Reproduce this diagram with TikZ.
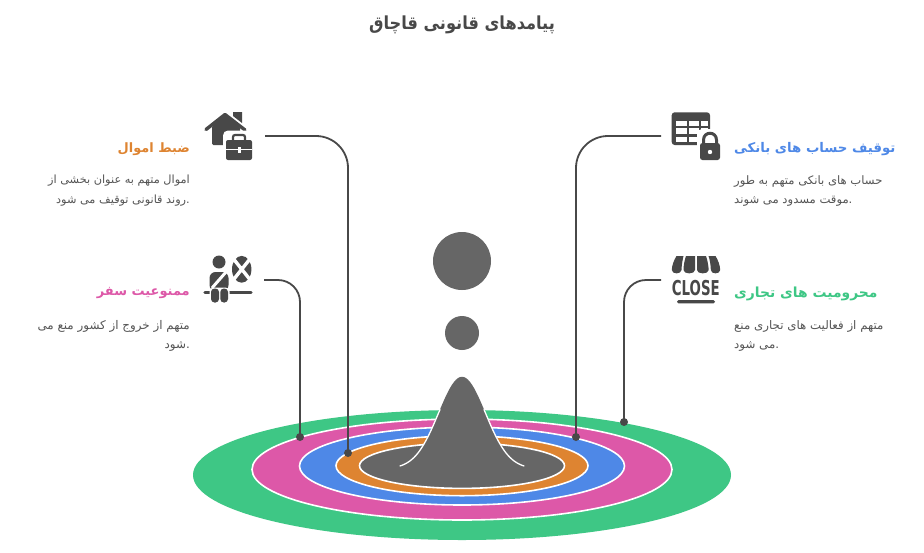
\documentclass[tikz,border=0pt]{standalone}
\usepackage{fontspec}
\setmainfont{DejaVu Sans}
\newfontfamily\arabicfont[Script=Arabic]{DejaVu Sans}
\TeXXeTstate=1
\newcommand{\artxt}[1]{{\arabicfont\beginR #1\endR}}
\newcommand{\fsz}[1]{\fontsize{#1}{19.5}\selectfont}
\definecolor{cgreen}{HTML}{3EC785}
\definecolor{cpink}{HTML}{DD58A8}
\definecolor{cblue}{HTML}{4E88E7}
\definecolor{corange}{HTML}{DE8431}
\definecolor{cgray}{HTML}{666666}
\definecolor{cdark}{HTML}{484848}
\definecolor{ctext}{HTML}{555555}
\tikzset{
  x=1pt,y=-1pt,
  ring/.style={draw=white,line width=1.6pt},
  conn/.style={draw=cdark,line width=1.8pt},
  enddot/.style={circle,fill=cdark,inner sep=0pt,minimum size=8pt},
  headl/.style={anchor=east,inner sep=0pt,font=\bfseries\fsz{#1}},
  headr/.style={anchor=west,inner sep=0pt,font=\bfseries\fsz{#1}},
  descl/.style={anchor=north east,inner sep=0pt,align=right,text=ctext,font=\fsz{#1}},
  descr/.style={anchor=north west,inner sep=0pt,align=left,text=ctext,font=\fsz{#1}},
  ic/.style={fill=cdark},
}
\begin{document}
\begin{tikzpicture}
\useasboundingbox (0,0) rectangle (924,552);
\fill[white] (0,0) rectangle (924,552);
\node[inner sep=0pt,text=cdark,xscale=0.9,font=\bfseries\fontsize{18}{21}\selectfont] (title) at (462,25) {\artxt{پیامدهای قانونی قاچاق}};
% rings
\fill[cgreen] (462,475) ellipse [x radius=269,y radius=65];
\path[ring,fill=cpink] (462,469.5) ellipse [x radius=210,y radius=50.5];
\path[ring,fill=cblue] (462,466) ellipse [x radius=162.5,y radius=39];
\path[ring,fill=corange] (462,465.7) ellipse [x radius=126,y radius=30];
\path[ring,fill=cgray] (462,465.7) ellipse [x radius=102.5,y radius=22.7];
% peak
\fill[cgray] plot[domain=400:524,samples=63,smooth] (\x,{466-92*(exp(-((\x-462)*(\x-462))/1100)-0.03)}) -- cycle;
\draw[white,line width=1.3pt,line cap=round] plot[domain=400:440,samples=21,smooth] (\x,{466-92*(exp(-((\x-462)*(\x-462))/1100)-0.03)});
\draw[white,line width=1.3pt,line cap=round] plot[domain=484:524,samples=21,smooth] (\x,{466-92*(exp(-((\x-462)*(\x-462))/1100)-0.03)});
% circles
\node[circle,fill=cgray,inner sep=0pt,minimum size=58pt] (bigc) at (462,261) {};
\node[circle,fill=cgray,inner sep=0pt,minimum size=34pt] (smallc) at (462,333) {};
% connectors
\coordinate (s1) at (265,136);
\coordinate (s2) at (264,280);
\coordinate (s3) at (661,136);
\coordinate (s4) at (661,280);
\node[enddot] (d1) at (348,453) {};
\node[enddot] (d2) at (300,437) {};
\node[enddot] (d3) at (576,437) {};
\node[enddot] (d4) at (624,422) {};
\draw[conn,rounded corners=32pt] (s1) -| (d1.center);
\draw[conn,rounded corners=22pt] (s2) -| (d2.center);
\draw[conn,rounded corners=32pt] (s3) -| (d3.center);
\draw[conn,rounded corners=22pt] (s4) -| (d4.center);
% left texts
\node[headl=12.9,text=corange] (t1) at (190,149) {\artxt{ضبط اموال}};
\node[descl=11.3] (p1) at (190,175) {\artxt{اموال متهم به عنوان بخشی از}\\\artxt{روند قانونی توقیف می شود}.};
\node[headl=13,text=cpink] (t2) at (190,293.5) {\artxt{ممنوعیت سفر}};
\node[descl=11.9] (p2) at (190,320) {\artxt{متهم از خروج از کشور منع می}\\\artxt{شود}.};
% right texts
\node[headr=13.3,text=cblue] (t3) at (734,149) {\artxt{توقیف حساب های بانکی}};
\node[descr=11.6] (p3) at (734,175) {\artxt{حساب های بانکی متهم به طور}\\\artxt{موقت مسدود می شوند}.};
\node[headr=13.9,text=cgreen] (t4) at (734,293.5) {\artxt{محرومیت های تجاری}};
\node[descr=11.8] (p4) at (734,320) {\artxt{متهم از فعالیت های تجاری منع}\\\artxt{می شود}.};
% house + briefcase icon
\fill[ic] (233,112) -- (242,112) -- (242,123) -- (233,116) -- cycle;
\draw[cdark,line width=3.4pt,line cap=round,line join=round] (206,129.5) -- (225,114.5) -- (245,130);
\fill[ic,rounded corners=1.5pt] (212,145) -- (212,126) -- (225,115) -- (240,127) -- (240,145) -- cycle;
\fill[white,rounded corners=5pt] (223,130.5) rectangle (255,163);
\draw[cdark,line width=2.2pt,rounded corners=2pt] (233,141) -- (233,135) -- (245,135) -- (245,141);
\fill[ic,rounded corners=2pt] (226,140) rectangle (252,160);
\fill[white] (226,148.5) rectangle (252,150);
\fill[white] (237.5,147) rectangle (240.5,153);
% seated traveller icon
\node[circle,fill=cdark,inner sep=0pt,minimum size=13pt] (head) at (219,262) {};
\fill[ic,rounded corners=6pt] (209.5,291) -- (209.5,272) -- (228.5,272) -- (228.5,291) -- cycle;
\draw[white,line width=3pt] (212,288) -- (226,272);
\draw[cdark,line width=3.4pt,line cap=round] (205,292.3) -- (251,292.3);
\fill[white,rounded corners=4pt] (209.5,287.5) rectangle (229.5,304);
\fill[ic,rounded corners=3.5pt] (211,288.5) rectangle (219,302.5);
\fill[ic,rounded corners=3.5pt] (220.3,288.5) rectangle (228,302.5);
\fill[ic] (241.7,269.3) ellipse [x radius=9.7,y radius=13.4];
\draw[white,line width=3.4pt] (232,257) -- (251.5,281.5) (251.5,257) -- (232,281.5);
% table + lock icon
\fill[ic,rounded corners=3pt] (671.7,112.3) rectangle (710,145);
\foreach \xa/\xb in {675.7/686.5,688.7/698.5,700.7/708}{
  \foreach \ya/\yb in {121/126,128.2/134.3,136.5/141.7}{
    \fill[white] (\xa,\ya) rectangle (\xb,\yb);
  }
}
\fill[white,rounded corners=5pt] (697,129) rectangle (723,163);
\draw[cdark,line width=3pt] (703.5,146) -- (703.5,140) .. controls (703.5,131) and (716.5,131) .. (716.5,140) -- (716.5,146);
\fill[ic,rounded corners=2.5pt] (700,143) rectangle (720,160);
\node[circle,fill=white,inner sep=0pt,minimum size=4.4pt] (keyh) at (710,152) {};
% closed shop icon
\fill[ic] (676.5,256) -- (683.5,256) .. controls (682,262) and (681.5,268) .. (681.5,270) .. controls (681,274.5) and (672,274.5) .. (671.8,270) .. controls (672,265) and (674,260) .. (676.5,256) -- cycle;
\fill[ic] (686,256) -- (695,256) -- (695,270) .. controls (695,274.5) and (683.5,274.5) .. (683.5,270) .. controls (683.5,266) and (684.5,260) .. (686,256) -- cycle;
\fill[ic] (697,256) -- (706,256) .. controls (707.5,260) and (708.5,266) .. (708.7,270) .. controls (708.5,274.5) and (697,274.5) .. (697,270) -- cycle;
\fill[ic] (708.5,256) -- (715.5,256) .. controls (718,260) and (720,265) .. (720.2,270) .. controls (720,274.5) and (711,274.5) .. (710.8,270) .. controls (710.8,266) and (710,260) .. (708.5,256) -- cycle;
\node[inner sep=0pt,text=cdark,xscale=0.65,font=\bfseries\fontsize{20.5}{21}\selectfont] (closetxt) at (695.8,288.3) {CLOSE};
\fill[ic,rounded corners=1.6pt] (677,300) rectangle (715,303.4);
\end{tikzpicture}
\end{document}
